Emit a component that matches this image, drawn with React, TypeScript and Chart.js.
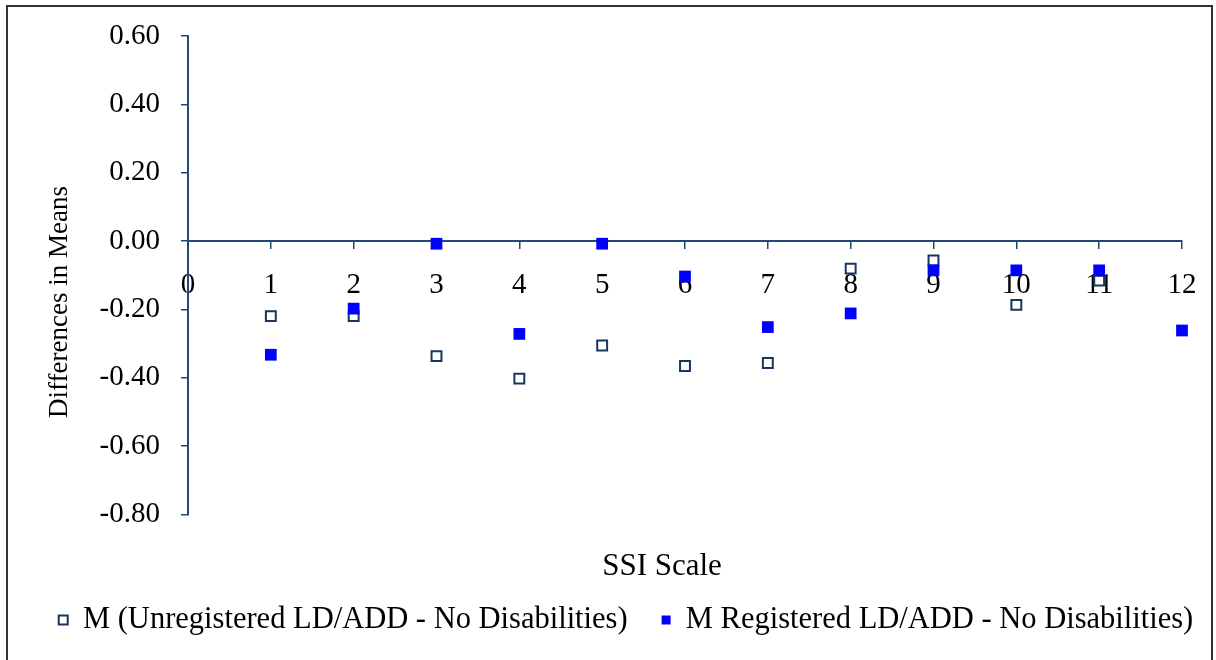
import React, { useEffect, useRef } from "react";
import { Chart, registerables } from "chart.js";

Chart.register(...registerables);

const ssiScale = [1, 2, 3, 4, 5, 6, 7, 8, 9, 10, 11, 12];
const unregisteredDiff = [-0.22, -0.22, -0.337, -0.403, -0.306, -0.366, -0.357, -0.081, -0.057, -0.187, -0.116, null];
const registeredDiff = [-0.333, -0.198, -0.008, -0.272, -0.008, -0.104, -0.252, -0.212, -0.086, -0.086, -0.086, -0.262];
const seriesNames = ["M (Unregistered LD/ADD - No Disabilities)", "M Registered LD/ADD - No Disabilities)"];
const yTickValues = [-0.8, -0.6, -0.4, -0.2, 0, 0.2, 0.4, 0.6];
const yTickLabels = ["-0.80", "-0.60", "-0.40", "-0.20", "0.00", "0.20", "0.40", "0.60"];
const xTitle = "SSI Scale";
const yTitle = "Differences in Means";

const FONT = "'Liberation Serif', 'Times New Roman', serif";
const AXIS = "#23477A";
const NAVY = "#17375E";
const BLUE = "#0000FF";
const LEGEND_PAD = 34;
const LEGEND_FONT = 30.5;

function toPoints(values: (number | null)[]) {
  return ssiScale
    .map((x, i) => ({ x, y: values[i] }))
    .filter((p) => p.y !== null) as { x: number; y: number }[];
}

function moveBox(box: any, centerX: number, top: number) {
  const w = box.right - box.left;
  const h = box.bottom - box.top;
  box.left = centerX - w / 2;
  box.right = centerX + w / 2;
  box.top = top;
  box.bottom = top + h;
}

const framePlugin = {
  id: "frame",
  afterLayout(chart: any) {
    if (chart.titleBlock) moveBox(chart.titleBlock, 662, 567 - 18.3);
    if (chart.legend) moveBox(chart.legend, 626, 620 - LEGEND_PAD - LEGEND_FONT / 2);
  },
  beforeDraw(chart: any) {
    const ctx = chart.ctx;
    ctx.save();
    ctx.fillStyle = "#ffffff";
    ctx.fillRect(0, 0, chart.width, chart.height);
    ctx.strokeStyle = "#333333";
    ctx.lineWidth = 2;
    ctx.strokeRect(7, 6, 1205, 720);
    ctx.restore();
  },
  afterDraw(chart: any) {
    const ctx = chart.ctx;
    const area = chart.chartArea;
    ctx.save();
    ctx.fillStyle = "#000000";
    ctx.font = `27px ${FONT}`;
    ctx.textAlign = "center";
    ctx.textBaseline = "middle";
    ctx.translate(60, area.top + area.height * 0.556);
    ctx.rotate(-Math.PI / 2);
    ctx.fillText(yTitle, 0, 0);
    ctx.restore();
  },
};

export default function App() {
  const ref = useRef<HTMLCanvasElement | null>(null);

  useEffect(() => {
    if (!ref.current) return;
    const chart = new Chart(ref.current, {
      type: "scatter",
      data: {
        datasets: [
          {
            label: seriesNames[0],
            data: toPoints(unregisteredDiff),
            pointStyle: "rect",
            pointRadius: 7,
            pointHoverRadius: 7,
            pointBorderWidth: 2,
            pointBackgroundColor: "#ffffff",
            pointBorderColor: NAVY,
            backgroundColor: "#ffffff",
            borderColor: NAVY,
            borderWidth: 2,
            order: 1,
          },
          {
            label: seriesNames[1],
            data: toPoints(registeredDiff),
            pointStyle: "rect",
            pointRadius: 8.3,
            pointHoverRadius: 8.3,
            pointBorderWidth: 0,
            pointBackgroundColor: BLUE,
            pointBorderColor: BLUE,
            backgroundColor: BLUE,
            borderColor: BLUE,
            borderWidth: 0,
            order: 0,
          },
        ],
      },
      options: {
        responsive: false,
        animation: false,
        devicePixelRatio: 1,
        clip: false as any,
        layout: { padding: { left: 0, top: 36, right: 0, bottom: 34 } },
        scales: {
          x: {
            type: "linear",
            position: { y: 0 } as any,
            min: 0,
            max: 12,
            afterFit(scale: any) {
              scale.paddingLeft = 0;
              scale.paddingRight = 34;
            },
            afterBuildTicks(scale: any) {
              scale.ticks = [0, ...ssiScale].map((v) => ({ value: v }));
            },
            ticks: {
              color: "#000000",
              font: { family: FONT, size: 29 },
              padding: 20,
              maxRotation: 0,
              autoSkip: false,
            },
            grid: {
              drawOnChartArea: false,
              drawTicks: true,
              tickLength: 7,
              color: AXIS,
              lineWidth: 1.5,
            },
            border: { display: true, color: AXIS, width: 2 },
          },
          y: {
            type: "linear",
            position: "left",
            min: -0.8,
            max: 0.6,
            afterFit(scale: any) {
              scale.width = 188;
              scale.paddingTop = 0;
              scale.paddingBottom = 0;
            },
            afterBuildTicks(scale: any) {
              scale.ticks = yTickValues.map((v) => ({ value: v }));
            },
            ticks: {
              color: "#000000",
              font: { family: FONT, size: 29 },
              padding: 21,
              callback: (_v: any, i: number) => yTickLabels[i],
            },
            grid: {
              drawOnChartArea: false,
              drawTicks: true,
              tickLength: 7,
              color: AXIS,
              lineWidth: 1.5,
            },
            border: { display: true, color: AXIS, width: 2 },
          },
        },
        plugins: {
          tooltip: { enabled: false },
          title: {
            display: true,
            text: xTitle,
            position: "bottom",
            weight: 500,
            color: "#000000",
            font: { family: FONT, size: 31, weight: "normal" },
            padding: { top: 0, bottom: 0 },
          } as any,
          legend: {
            display: true,
            position: "bottom",
            weight: 1000,
            labels: {
              usePointStyle: true,
              boxWidth: 9,
              boxHeight: 9,
              padding: LEGEND_PAD,
              color: "#000000",
              font: { family: FONT, size: LEGEND_FONT },
              sort: (a: any, b: any) => a.datasetIndex - b.datasetIndex,
            },
          } as any,
        },
      },
      plugins: [framePlugin],
    });
    return () => chart.destroy();
  }, []);

  return (
    <canvas
      ref={ref}
      width={1216}
      height={660}
      style={{ position: "fixed", left: 0, top: 0, width: 1216, height: 660 }}
    />
  );
}
